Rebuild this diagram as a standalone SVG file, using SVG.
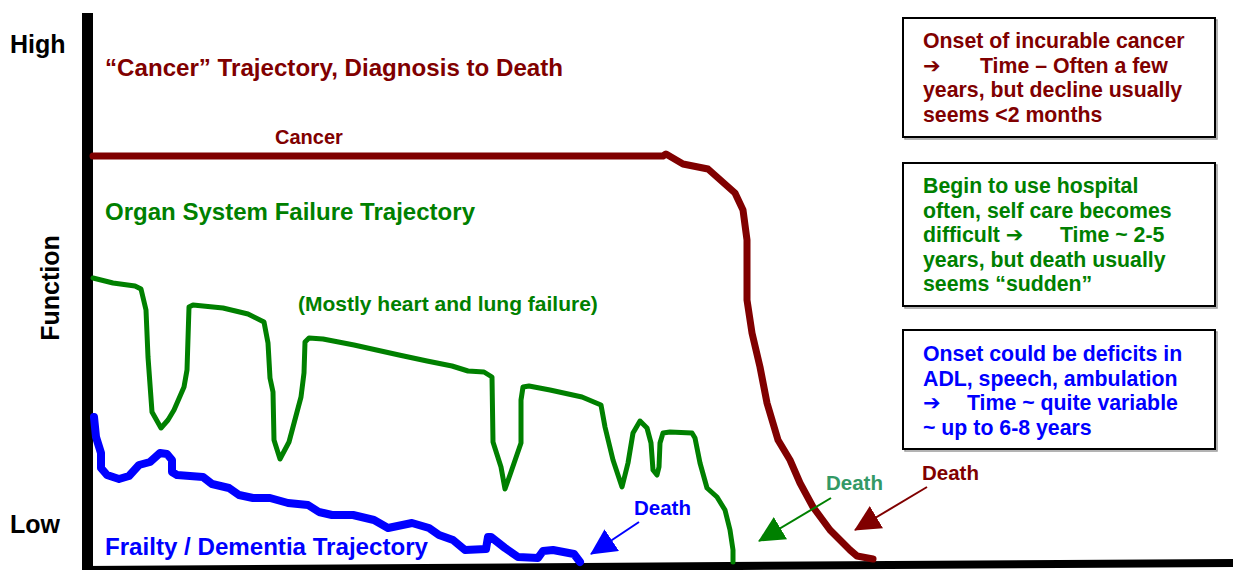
<svg xmlns="http://www.w3.org/2000/svg" width="1233" height="570" viewBox="0 0 1233 570">
<style>
text{font-family:"Liberation Sans",Arial,sans-serif;font-weight:bold}
.ax{font-size:25px;fill:#000}
.red{fill:#800000}.grn{fill:#008000}.blu{fill:#0000ff}
.bx{font-size:21.3px}
.arr{font-family:"DejaVu Sans","Liberation Sans",sans-serif;font-size:21px}
.traj{fill:none;stroke-linejoin:round;stroke-linecap:round}
.box{fill:#fff;stroke:#000;stroke-width:2}
.shadow{fill:none;stroke:#9a9a9a;stroke-width:1.5}
.death{font-size:20.5px}
</style>
<defs>
<marker id="hb" markerUnits="userSpaceOnUse" viewBox="0 0 26 26" markerWidth="26" markerHeight="26" refX="25" refY="13" orient="auto"><path d="M0,0 L26,13 L0,26 z" fill="#0000ff"/></marker>
<marker id="hg" markerUnits="userSpaceOnUse" viewBox="0 0 26 26" markerWidth="26" markerHeight="26" refX="25" refY="13" orient="auto"><path d="M0,0 L26,13 L0,26 z" fill="#008000"/></marker>
<marker id="hr" markerUnits="userSpaceOnUse" viewBox="0 0 26 26" markerWidth="26" markerHeight="26" refX="25" refY="13" orient="auto"><path d="M0,0 L26,13 L0,26 z" fill="#800000"/></marker>
</defs>
<rect width="1233" height="570" fill="#fff"/>

<g id="axes">
<rect x="82" y="13" width="11" height="557" fill="#000"/>
<polygon points="82,566 1233,559 1233,567 82,574" fill="#000"/>
<text class="ax" x="10" y="53">High</text>
<text class="ax" x="10" y="533">Low</text>
<text class="ax" x="0" y="0" text-anchor="middle" transform="translate(59,288) rotate(-90)">Function</text>
</g>

<g id="labels">
<text class="red" x="105" y="76" font-size="24" textLength="458" lengthAdjust="spacingAndGlyphs">“Cancer” Trajectory, Diagnosis to Death</text>
<text class="red" x="275" y="144" font-size="20">Cancer</text>
<text class="grn" x="105" y="220" font-size="24" textLength="370" lengthAdjust="spacingAndGlyphs">Organ System Failure Trajectory</text>
<text class="grn" x="298" y="311" font-size="21">(Mostly heart and lung failure)</text>
<text class="blu" x="105" y="555" font-size="24" textLength="323" lengthAdjust="spacingAndGlyphs">Frailty / Dementia Trajectory</text>
</g>

<g id="cancer-trajectory">
<path class="traj" stroke="#800000" stroke-width="7" d="M93,156 L663,156 L666,154 L683,164 L708,169 L717,177 L735,193 L743,210 L747,240 L747,300 L752,333 L760,367 L767,403 L778,440 L790,460 L800,483 L813,507 L830,530 L843,543 L850,550 L857,556 L873,559"/>
</g>

<g id="organ-trajectory">
<path class="traj" stroke="#008000" stroke-width="5" d="M93,278 L113,283 L135,286 L141,289 L146,310 L148,357 L152,412 L161,428 L168,420 L174,410 L184,387 L187,370 L189,307 L193,305 L223,308 L248,314 L264,322 L268,343 L270,378 L273,392 L274,440 L280,459 L289,442 L301,397 L304,373 L305,342 L309,338 L323,339 L354,345 L399,355 L427,361 L452,366 L468,371 L484,372 L492,377 L493,442 L501,467 L505,489 L511,472 L521,443 L521,400 L523,387 L529,386 L550,390 L582,397 L601,405 L605,427 L613,460 L622,487 L628,463 L633,433 L640,421 L647,428 L651,443 L653,470 L657,475 L659,467 L660,443 L663,433 L670,432 L692,433 L695,438 L700,463 L707,488 L717,497 L725,510 L730,530 L733,550 L733,562"/>
</g>

<g id="frailty-trajectory">
<path class="traj" stroke="#0000ff" stroke-width="8" d="M94,417 L96,437 L101,453 L101,468 L107,475 L119,479 L129,476 L139,465 L150,462 L160,453 L167,454 L172,460 L172,472 L177,475 L203,477 L212,484 L229,488 L239,495 L253,498 L270,498 L288,503 L308,505 L319,512 L332,515 L353,515 L374,520 L388,528 L412,523 L429,528 L439,535 L453,540 L465,550 L486,549 L488,537 L491,537 L505,548 L518,557 L538,558 L543,551 L553,550 L574,554 L580,562"/>
</g>

<g id="box-cancer">
<rect class="shadow" x="905" y="20" width="312" height="119"/>
<rect class="box" x="903" y="18" width="312" height="119"/>
<text class="bx red" x="923" y="48">Onset of incurable cancer</text>
<text class="bx red" x="923" y="72.5"><tspan class="arr">➔</tspan><tspan x="980">Time – Often a few</tspan></text>
<text class="bx red" x="923" y="97">years, but decline usually</text>
<text class="bx red" x="923" y="121.5">seems &lt;2 months</text>
</g>

<g id="box-organ">
<rect class="shadow" x="905" y="165" width="312" height="143"/>
<rect class="box" x="903" y="163" width="312" height="143"/>
<text class="bx grn" x="923" y="193">Begin to use hospital</text>
<text class="bx grn" x="923" y="217.5">often, self care becomes</text>
<text class="bx grn" x="923" y="242">difficult <tspan class="arr">➔</tspan><tspan x="1060">Time ~ 2-5</tspan></text>
<text class="bx grn" x="923" y="266.5">years, but death usually</text>
<text class="bx grn" x="923" y="291">seems “sudden”</text>
</g>

<g id="box-frailty">
<rect class="shadow" x="905" y="332" width="312" height="119"/>
<rect class="box" x="903" y="330" width="312" height="119"/>
<text class="bx blu" x="923" y="361">Onset could be deficits in</text>
<text class="bx blu" x="923" y="385.5">ADL, speech, ambulation</text>
<text class="bx blu" x="923" y="410"><tspan class="arr">➔</tspan><tspan x="967">Time ~ quite variable</tspan></text>
<text class="bx blu" x="923" y="434.5">~ up to 6-8 years</text>
</g>

<g id="death-labels">
<text class="death blu" x="634" y="515">Death</text>
<text class="death" x="826" y="490" fill="#339966">Death</text>
<text class="death red" x="922" y="480">Death</text>
</g>

<g id="connectors">
<line x1="639" y1="522" x2="591" y2="554" stroke="#0000ff" stroke-width="2" marker-end="url(#hb)"/>
<line x1="831" y1="498" x2="759" y2="541" stroke="#008000" stroke-width="2" marker-end="url(#hg)"/>
<line x1="927" y1="487" x2="855" y2="530" stroke="#800000" stroke-width="2" marker-end="url(#hr)"/>
</g>
</svg>
